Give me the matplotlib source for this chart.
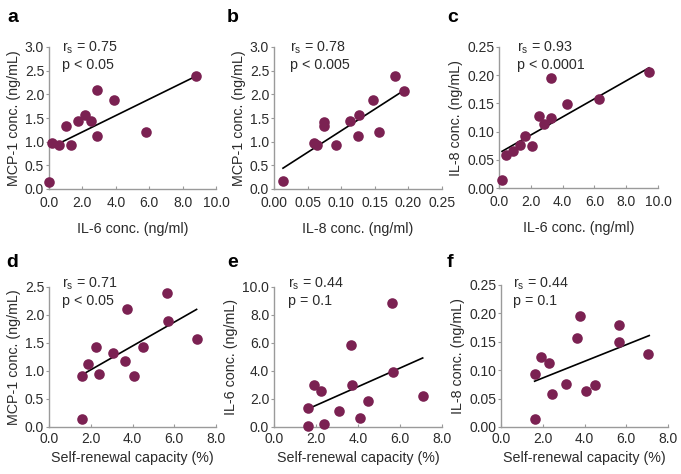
import matplotlib
matplotlib.use("Agg")
import matplotlib.pyplot as plt

plt.rcParams['font.family'] = ['Liberation Sans', 'DejaVu Sans']
plt.rcParams['mathtext.default'] = 'regular'

# ---- data ----
# panel a: IL-6 vs MCP-1
a_x = [0.0, 0.18, 0.6, 1.0, 1.3, 1.74, 2.14, 2.5, 2.9, 2.88, 3.88, 5.78, 8.78]
a_y = [0.15, 0.97, 0.92, 1.34, 0.92, 1.43, 1.57, 1.43, 2.1, 1.13, 1.87, 1.2, 2.38]
a_fit_x = [0.64, 8.78]
a_fit_y = [0.97, 2.38]

# panel b: IL-8 vs MCP-1
b_x = [0.0134, 0.059, 0.0645, 0.074, 0.075, 0.093, 0.1136, 0.127, 0.125, 0.148, 0.156, 0.18, 0.193]
b_y = [0.16, 0.97, 0.92, 1.34, 1.42, 0.92, 1.43, 1.57, 1.13, 1.87, 1.2, 2.38, 2.08]
b_fit_x = [0.0134, 0.193]
b_fit_y = [0.44, 2.08]

# panel c: IL-6 vs IL-8
c_x = [0.19, 0.46, 0.88, 1.3, 1.66, 2.1, 2.5, 2.83, 3.29, 3.29, 4.28, 6.27, 9.43]
c_y = [0.0148, 0.059, 0.065, 0.0757, 0.093, 0.075, 0.127, 0.114, 0.124, 0.195, 0.149, 0.157, 0.205]
c_fit_x = [0.19, 9.43]
c_fit_y = [0.065, 0.213]

# panels d-f: self-renewal capacity vs cytokines
d_x = [1.6, 1.58, 1.87, 2.24, 2.4, 3.07, 3.63, 3.74, 4.08, 4.48, 5.63, 5.68, 7.07]
d_y = [0.149, 0.905, 1.13, 1.43, 0.95, 1.33, 1.17, 2.10, 0.905, 1.43, 2.40, 1.89, 1.58]
d_fit_x = [1.76, 7.07]
d_fit_y = [0.97, 2.10]

e_x = [1.63, 1.6, 1.9, 2.26, 2.39, 3.09, 3.65, 3.73, 4.1, 4.49, 5.64, 5.66, 7.08]
e_y = [0.05, 1.38, 2.98, 2.57, 0.24, 1.12, 5.88, 2.98, 0.64, 1.83, 8.86, 3.93, 2.19]
e_fit_x = [1.75, 7.08]
e_fit_y = [1.38, 4.93]

f_x = [1.65, 1.65, 1.92, 2.28, 2.44, 3.11, 3.64, 3.77, 4.09, 4.49, 5.64, 5.67, 7.04]
f_y = [0.0135, 0.093, 0.124, 0.1135, 0.0588, 0.0753, 0.157, 0.195, 0.0635, 0.0735, 0.179, 0.149, 0.128]
f_fit_x = [1.61, 7.1]
f_fit_y = [0.0806, 0.161]

letters = ['a', 'b', 'c', 'd', 'e', 'f']
xlabels = ['IL-6 conc. (ng/ml)', 'IL-8 conc. (ng/ml)', 'IL-6 conc. (ng/ml)',
           'Self-renewal capacity (%)', 'Self-renewal capacity (%)', 'Self-renewal capacity (%)']
ylabels = ['MCP-1 conc. (ng/mL)', 'MCP-1 conc. (ng/mL)', 'IL-8 conc. (ng/mL)',
           'MCP-1 conc. (ng/mL)', 'IL-6 conc. (ng/mL)', 'IL-8 conc. (ng/mL)']
rs_vals = ['0.75', '0.78', '0.93', '0.71', '0.44', '0.44']
p_texts = ['p < 0.05', 'p < 0.005', 'p < 0.0001', 'p < 0.05', 'p = 0.1', 'p = 0.1']

xticks_list = [[0, 2, 4, 6, 8, 10], [0, 0.05, 0.1, 0.15, 0.2, 0.25], [0, 2, 4, 6, 8, 10],
               [0, 2, 4, 6, 8], [0, 2, 4, 6, 8], [0, 2, 4, 6, 8]]
yticks_list = [[0, 0.5, 1, 1.5, 2, 2.5, 3], [0, 0.5, 1, 1.5, 2, 2.5, 3],
               [0, 0.05, 0.1, 0.15, 0.2, 0.25], [0, 0.5, 1, 1.5, 2, 2.5],
               [0, 2, 4, 6, 8, 10], [0, 0.05, 0.1, 0.15, 0.2, 0.25]]
xfmt = ['{:.1f}', '{:.2f}', '{:.1f}', '{:.1f}', '{:.1f}', '{:.1f}']
yfmt = ['{:.1f}', '{:.1f}', '{:.2f}', '{:.1f}', '{:.1f}', '{:.2f}']

xs = [a_x, b_x, c_x, d_x, e_x, f_x]
ys = [a_y, b_y, c_y, d_y, e_y, f_y]
fxs = [a_fit_x, b_fit_x, c_fit_x, d_fit_x, e_fit_x, f_fit_x]
fys = [a_fit_y, b_fit_y, c_fit_y, d_fit_y, e_fit_y, f_fit_y]

W, H = 681, 474
# axes boxes in pixels: left, right, top, bottom
boxes = [(49, 216, 47, 189), (274, 442, 47, 189), (499, 658, 47, 188),
         (49, 216, 287, 427), (274, 442, 287, 427), (501, 668, 285, 427)]
# annotation offsets (px): x from axes left, baseline of first line from axes top
ann_dx = [13, 16, 18, 13, 14, 12]
ann_dy = [5, 5, 5, 1, 1, 3]
# panel letter positions (px): left x, baseline y
letter_pos = [(7, 22), (227, 22), (447, 22), (6, 267), (227, 267), (447, 267)]
tick_pad = [5, 5, 5, 3.5, 3.5, 3.5]
xlab_pad = [9, 9, 9, 4, 4, 4]

dot_color = '#7B2152'
spine_color = '#9a9a9a'
text_color = '#2b2b2b'

fig = plt.figure(figsize=(W / 100, H / 100), dpi=100)
for i in range(6):
    l, r, t, b = boxes[i]
    ax = fig.add_axes([l / W, 1 - b / H, (r - l) / W, (b - t) / H])
    ax.scatter(xs[i], ys[i], s=58, color=dot_color, zorder=3, linewidths=0, clip_on=False)
    ax.plot(fxs[i], fys[i], color='black', lw=1.2, zorder=2)
    xt = xticks_list[i]
    yt = yticks_list[i]
    ax.set_xlim(xt[0], xt[-1])
    ax.set_ylim(yt[0], yt[-1])
    ax.set_xticks(xt)
    ax.set_yticks(yt)
    ax.set_xticklabels([xfmt[i].format(v) for v in xt])
    ax.set_yticklabels([yfmt[i].format(v) for v in yt])
    for s in ['top', 'right']:
        ax.spines[s].set_visible(False)
    for s in ['left', 'bottom']:
        ax.spines[s].set_color(spine_color)
        ax.spines[s].set_linewidth(1.0)
    ax.tick_params(axis='x', direction='in', length=2.5, color=spine_color,
                   labelsize=10, labelcolor=text_color, pad=tick_pad[i])
    ax.tick_params(axis='y', direction='out', length=2.5, color=spine_color,
                   labelsize=10, labelcolor=text_color, pad=1)
    ax.set_xlabel(xlabels[i], fontsize=10.3, color=text_color, labelpad=xlab_pad[i])
    ax.set_ylabel(ylabels[i], fontsize=10.3, color=text_color, labelpad=3)
    tx = (l + ann_dx[i]) / W
    ty1 = 1 - (t + ann_dy[i]) / H
    ty2 = 1 - (t + ann_dy[i] + 17) / H
    fig.text(tx, ty1, r'$r_s$ = ' + rs_vals[i], fontsize=10.3, color=text_color,
             va='baseline', ha='left')
    fig.text(tx, ty2, p_texts[i], fontsize=10.3, color=text_color,
             va='baseline', ha='left')
    lx, ly = letter_pos[i]
    fig.text(lx / W, 1 - ly / H, letters[i], fontsize=14,
             fontweight='bold', color='black', va='baseline', ha='left')

fig.savefig('out.png', dpi=100)
